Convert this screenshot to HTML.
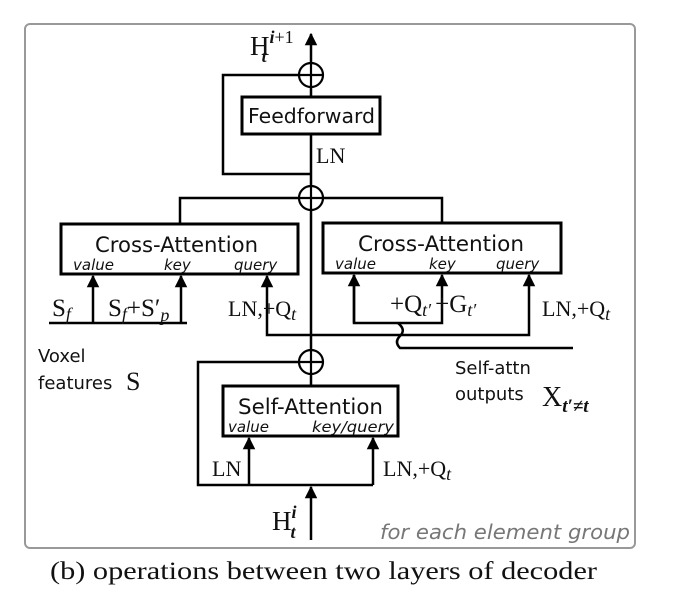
<!DOCTYPE html>
<html><head><meta charset="utf-8"><style>
body{margin:0;background:#fff;width:674px;height:591px;overflow:hidden}
svg{display:block}
.s{font-family:"DejaVu Sans","Liberation Sans",sans-serif}
.m{font-family:"Liberation Serif",serif}
</style></head><body>
<svg width="674" height="591" viewBox="0 0 674 591">
<defs><marker id="ah" viewBox="0 0 10 10" refX="9" refY="5" markerWidth="5" markerHeight="6" orient="auto-start-reverse"><path d="M0,0L10,5L0,10z" fill="#000"/></marker></defs>
<rect x="25" y="24" width="610" height="524" rx="5" fill="none" stroke="#999" stroke-width="2"/>
<g stroke="#000" stroke-width="2.5" fill="none">
<line x1="311" y1="87" x2="311" y2="34" marker-end="url(#ah)"/>
<line x1="311" y1="97" x2="311" y2="87"/>
<line x1="311" y1="135" x2="311" y2="210"/>
<line x1="311" y1="186" x2="311" y2="374"/>
<line x1="311" y1="374" x2="311" y2="386"/>
<line x1="311" y1="540" x2="311" y2="487" marker-end="url(#ah)"/>
<polyline points="299,75 223,75 223,174 311,174"/>
<polyline points="180,224 180,198 442,198 442,223"/>
<polyline points="299,362 198,362 198,485 373,485"/>
<line x1="249" y1="485" x2="249" y2="438" marker-end="url(#ah)"/>
<line x1="373" y1="485" x2="373" y2="438" marker-end="url(#ah)"/>
<line x1="49" y1="323" x2="187" y2="323"/>
<line x1="93" y1="323" x2="93" y2="276" marker-end="url(#ah)"/>
<line x1="181" y1="323" x2="181" y2="276" marker-end="url(#ah)"/>
<polyline points="311,335 267,335 267,276" marker-end="url(#ah)"/>
<polyline points="311,335 529,335 529,275" marker-end="url(#ah)"/>
<polyline points="354,275 354,323 442,323 442,275" marker-end="url(#ah)"/>
<line x1="354" y1="323" x2="354" y2="275" marker-end="url(#ah)"/>
<path d="M398,323 C404,328 404,332 400,336 C396,340 396,344 400,348 L573,348"/>
</g>
<g stroke="#000" stroke-width="2.2" fill="#fff">
<circle cx="311" cy="75" r="12"/>
<circle cx="311" cy="198" r="12"/>
<circle cx="311" cy="362" r="12"/>
</g>
<g stroke="#000" stroke-width="2.2">
<path d="M299,75H323M311,63V87M299,198H323M311,186V210M299,362H323M311,350V374"/>
</g>
<g stroke="#000" stroke-width="3" fill="#fff">
<rect x="242" y="97" width="138" height="37"/>
<rect x="61" y="224" width="237" height="50"/>
<rect x="323" y="223" width="238" height="50"/>
<rect x="223" y="386" width="175" height="50"/>
</g>
<g class="s" fill="#111">
<text x="248" y="123" font-size="20" textLength="127" lengthAdjust="spacingAndGlyphs">Feedforward</text>
<text x="95" y="252" font-size="21" textLength="163" lengthAdjust="spacingAndGlyphs">Cross-Attention</text>
<text x="358" y="251" font-size="21" textLength="166" lengthAdjust="spacingAndGlyphs">Cross-Attention</text>
<text x="238" y="414" font-size="21" textLength="145" lengthAdjust="spacingAndGlyphs">Self-Attention</text>
<g font-style="italic" font-size="15">
<text x="73" y="270">value</text><text x="164" y="270">key</text><text x="234" y="270">query</text>
<text x="335" y="269">value</text><text x="429" y="269">key</text><text x="496" y="269">query</text>
<text x="228" y="432">value</text><text x="312" y="432" textLength="82" lengthAdjust="spacingAndGlyphs">key/query</text>
</g>
<text x="38" y="362" font-size="18">Voxel</text>
<text x="38" y="389" font-size="18">features</text>
<text x="455" y="374" font-size="18">Self-attn</text>
<text x="455" y="400" font-size="18">outputs</text>
<text x="630" y="539" font-size="20" font-style="italic" fill="#777" text-anchor="end" textLength="250" lengthAdjust="spacingAndGlyphs">for each element group</text>
</g>
<g class="m" fill="#111" font-size="25">
<text x="250" y="55" font-size="27">H<tspan font-size="18" font-style="italic" font-weight="bold" dy="-12">i</tspan><tspan font-size="18" dy="0">+1</tspan><tspan font-size="18" font-style="italic" font-weight="bold" dx="-32" dy="19">t</tspan></text>
<text x="316" y="163" font-size="22">LN</text>
<text x="52" y="316">S<tspan font-size="18" font-style="italic" dy="4">f</tspan></text>
<text x="108" y="316">S<tspan font-size="18" font-style="italic" dy="4">f</tspan><tspan dy="-4">+S′</tspan><tspan font-size="18" font-style="italic" dy="5">p</tspan></text>
<text x="228" y="316" font-size="22">LN,+Q<tspan font-size="18" font-style="italic" dy="4">t</tspan></text>
<text x="390" y="312">+Q<tspan font-size="18" font-style="italic" dy="4">t′</tspan><tspan dy="-4" dx="4">+G</tspan><tspan font-size="18" font-style="italic" dy="4">t′</tspan></text>
<text x="542" y="316" font-size="22">LN,+Q<tspan font-size="18" font-style="italic" dy="4">t</tspan></text>
<text x="126" y="390" font-size="26">S</text>
<text x="542" y="406" font-size="28">X<tspan font-size="19" font-style="italic" font-weight="bold" dy="6">t′≠t</tspan></text>
<text x="212" y="476" font-size="22">LN</text>
<text x="383" y="476" font-size="22">LN,+Q<tspan font-size="18" font-style="italic" dy="4">t</tspan></text>
<text x="272" y="530" font-size="27">H<tspan font-size="18" font-style="italic" font-weight="bold" dy="-12">i</tspan><tspan font-size="18" font-style="italic" font-weight="bold" dx="-6" dy="20">t</tspan></text>
<text x="50" y="579" font-size="25" textLength="547" lengthAdjust="spacingAndGlyphs">(b) operations between two layers of decoder</text>
</g>
</svg>
</body></html>
